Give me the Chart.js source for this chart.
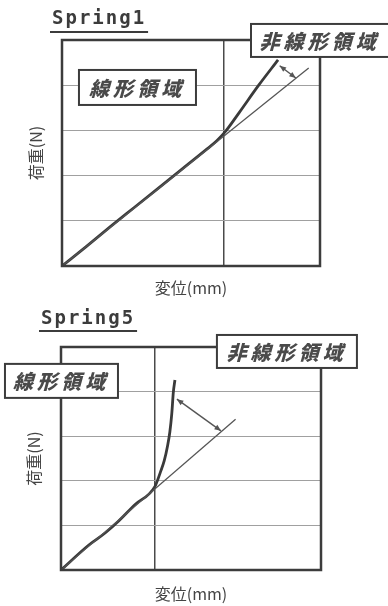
<!DOCTYPE html>
<html>
<head>
<meta charset="utf-8">
<script src="https://cdn.jsdelivr.net/npm/chart.js@4"></script>
<style>
  html, body { margin: 0; padding: 0; background: #fff; }
  #wrap { position: relative; width: 388px; height: 606px; background: #fff; }
  canvas { position: absolute; left: 0; }
  #c1 { top: 0; }
  #c2 { top: 303px; }
</style>
</head>
<body>
<div id="wrap">
  <canvas id="c1" width="388" height="303"></canvas>
  <canvas id="c2" width="388" height="303"></canvas>
</div>
<script>
// ---- Spring1: measured load-displacement curve and its linear fit ----
const S1_DISP = [0, 0.15, 0.30, 0.45, 0.60, 0.75, 0.90, 0.96, 1.01, 1.10, 1.22, 1.34];
const S1_LOAD = [0, 0.43, 0.87, 1.30, 1.73, 2.16, 2.59, 2.77, 2.96, 3.40, 4.00, 4.56];
const S1_FIT_DISP = [0, 1.53];
const S1_FIT_LOAD = [0, 4.38];

// ---- Spring5 ----
const S5_DISP = [0, 0.29, 0.47, 0.60, 0.79, 1.00, 1.06, 1.10, 1.135, 1.16, 1.18, 1.197, 1.214];
const S5_LOAD = [0, 0.55, 0.83, 1.07, 1.47, 1.87, 2.20, 2.45, 2.78, 3.10, 3.50, 3.99, 4.26];
const S5_FIT_DISP = [0, 1.86];
const S5_FIT_LOAD = [0, 3.38];

// axis ranges and grid positions
const LOAD_MAX = 5;
const LOAD_GRID = [1, 2, 3, 4];
const S1_DISP_MAX = 1.6;
const S5_DISP_MAX = 2.77;
const DISP_GRID = [1];

// texts
const Y_TITLE = '荷重(N)';
const X_TITLE = '変位(mm)';
const LINEAR = '線形領域';
const NONLINEAR = '非線形領域';

const toXY = (xs, ys) => xs.map((x, i) => ({ x, y: ys[i] }));

const INK = '#3c3c3c';
const CJK = '"Noto Sans CJK JP", "Noto Sans", sans-serif';

// Heading with underline ("Spring1", "Spring5")
const headingPlugin = {
  id: 'heading',
  afterDraw(chart, args, o) {
    const ctx = chart.ctx;
    ctx.save();
    ctx.fillStyle = INK;
    ctx.font = 'bold 19px "DejaVu Sans Mono", monospace';
    ctx.letterSpacing = '2px';
    ctx.textBaseline = 'alphabetic';
    ctx.textAlign = 'left';
    ctx.fillText(o.text, o.x, o.baseline);
    const w = ctx.measureText(o.text).width;
    ctx.fillRect(o.x - 2, o.underline, w + 4, 2);
    ctx.restore();
  }
};

// Frame around the plot area
const framePlugin = {
  id: 'frame',
  afterDatasetsDraw(chart) {
    const { ctx, chartArea: a } = chart;
    ctx.save();
    ctx.strokeStyle = INK;
    ctx.lineWidth = 2.5;
    ctx.strokeRect(a.left, a.top, a.right - a.left, a.bottom - a.top);
    ctx.restore();
  }
};

// Double-headed arrow between the measured curve and the fit line
const arrowPlugin = {
  id: 'arrow',
  afterDatasetsDraw(chart, args, o) {
    const { ctx, scales: { x, y } } = chart;
    const x1 = x.getPixelForValue(o.from[0]), y1 = y.getPixelForValue(o.from[1]);
    const x2 = x.getPixelForValue(o.to[0]), y2 = y.getPixelForValue(o.to[1]);
    const ang = Math.atan2(y2 - y1, x2 - x1);
    const head = 7, spread = 0.4;
    ctx.save();
    ctx.strokeStyle = '#555';
    ctx.fillStyle = '#555';
    ctx.lineWidth = 1.4;
    ctx.beginPath();
    ctx.moveTo(x1, y1);
    ctx.lineTo(x2, y2);
    ctx.stroke();
    const tip = (px, py, a) => {
      ctx.beginPath();
      ctx.moveTo(px, py);
      ctx.lineTo(px - head * Math.cos(a - spread), py - head * Math.sin(a - spread));
      ctx.lineTo(px - head * Math.cos(a + spread), py - head * Math.sin(a + spread));
      ctx.closePath();
      ctx.fill();
    };
    tip(x2, y2, ang);
    tip(x1, y1, ang + Math.PI);
    ctx.restore();
  }
};

// Framed region labels in slanted heavy type
const regionPlugin = {
  id: 'region',
  afterDraw(chart, args, o) {
    const { ctx, scales: { x, y } } = chart;
    o.items.forEach(it => {
      const cx = x.getPixelForValue(it.at[0]);
      const cy = y.getPixelForValue(it.at[1]);
      ctx.save();
      ctx.fillStyle = '#fff';
      ctx.strokeStyle = INK;
      ctx.lineWidth = 2;
      ctx.fillRect(cx - it.w / 2, cy - it.h / 2, it.w, it.h);
      ctx.strokeRect(cx - it.w / 2, cy - it.h / 2, it.w, it.h);
      ctx.font = '900 20px ' + CJK;
      ctx.letterSpacing = '4px';
      ctx.textAlign = 'center';
      ctx.textBaseline = 'middle';
      ctx.fillStyle = '#4a4a4a';
      ctx.translate(cx + 2, cy);
      ctx.transform(1, 0, -0.28, 1, 0, 0);
      ctx.fillText(it.text, 0, 1);
      ctx.restore();
    });
  }
};

function makeChart(id, cfg) {
  return new Chart(document.getElementById(id), {
    type: 'line',
    data: {
      datasets: [
        {
          data: cfg.fit,
          borderColor: '#555',
          borderWidth: 1.3,
          pointRadius: 0,
          tension: 0
        },
        {
          data: cfg.curve,
          borderColor: '#3a3a3a',
          borderWidth: 2.8,
          pointRadius: 0,
          cubicInterpolationMode: 'monotone'
        }
      ]
    },
    options: {
      responsive: false,
      devicePixelRatio: 1,
      animation: false,
      events: [],
      layout: { padding: { left: 0, right: cfg.padRight, top: cfg.padTop, bottom: 0 } },
      scales: {
        x: {
          type: 'linear',
          min: 0,
          max: cfg.xMax,
          afterBuildTicks: s => { s.ticks = DISP_GRID.map(v => ({ value: v })); },
          afterFit: s => { s.height = cfg.xAxisHeight; },
          ticks: { display: false },
          border: { display: false },
          grid: { color: '#4a4a4a', lineWidth: 1.5, drawTicks: false },
          title: {
            display: true,
            text: X_TITLE,
            color: '#444',
            font: { family: CJK, size: 16 },
            padding: { top: 0, bottom: cfg.xTitlePad }
          }
        },
        y: {
          type: 'linear',
          min: 0,
          max: LOAD_MAX,
          afterBuildTicks: s => { s.ticks = LOAD_GRID.map(v => ({ value: v })); },
          afterFit: s => { s.width = cfg.yAxisWidth; },
          ticks: { display: false },
          border: { display: false },
          grid: { color: '#a0a0a0', lineWidth: 1, drawTicks: false },
          title: {
            display: true,
            text: Y_TITLE,
            color: '#444',
            font: { family: CJK, size: 16 },
            padding: { top: cfg.yTitlePad, bottom: 0 }
          }
        }
      },
      plugins: {
        legend: { display: false },
        tooltip: { enabled: false },
        heading: cfg.heading,
        arrow: cfg.arrow,
        region: { items: cfg.regions }
      }
    },
    plugins: [headingPlugin, framePlugin, arrowPlugin, regionPlugin]
  });
}

makeChart('c1', {
  curve: toXY(S1_DISP, S1_LOAD),
  fit: toXY(S1_FIT_DISP, S1_FIT_LOAD),
  xMax: S1_DISP_MAX,
  padRight: 68, padTop: 40,
  xAxisHeight: 37, yAxisWidth: 62,
  xTitlePad: 5, yTitlePad: 26,
  heading: { text: 'Spring1', x: 52, baseline: 24, underline: 31 },
  arrow: { from: [1.35, 4.43], to: [1.45, 4.16] },
  regions: [
    { text: LINEAR, at: [0.468, 3.95], w: 117, h: 35 },
    { text: NONLINEAR, at: [1.6, 4.99], w: 138, h: 33 }
  ]
});

makeChart('c2', {
  curve: toXY(S5_DISP, S5_LOAD),
  fit: toXY(S5_FIT_DISP, S5_FIT_LOAD),
  xMax: S5_DISP_MAX,
  padRight: 67, padTop: 44,
  xAxisHeight: 36, yAxisWidth: 61,
  xTitlePad: 2, yTitlePad: 24,
  heading: { text: 'Spring5', x: 41, baseline: 21, underline: 27 },
  arrow: { from: [1.235, 3.83], to: [1.704, 3.12] },
  regions: [
    { text: LINEAR, at: [0.005, 4.24], w: 113, h: 34 },
    { text: NONLINEAR, at: [2.407, 4.90], w: 140, h: 33 }
  ]
});
</script>
</body>
</html>
